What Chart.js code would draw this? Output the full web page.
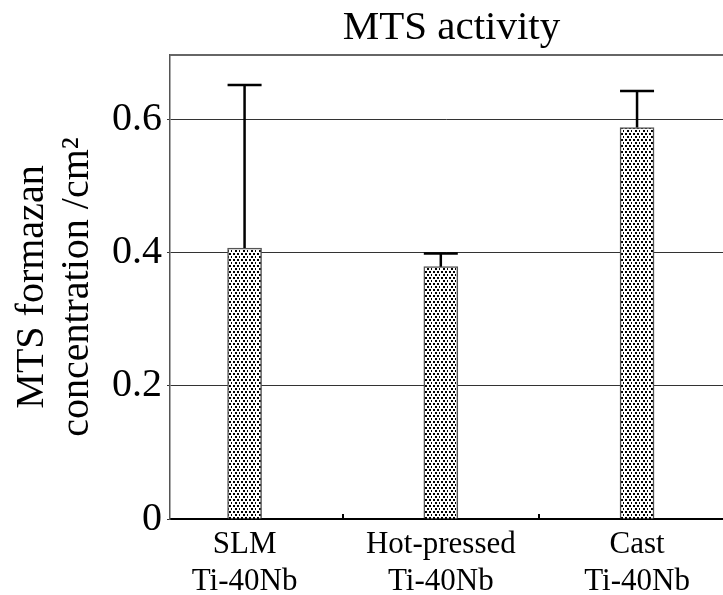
<!DOCTYPE html>
<html lang="en">

<head>
  <meta charset="UTF-8">
  <title>MTS activity</title>
  <style>
    html, body { margin: 0; padding: 0; background: #fff; overflow: hidden; }
  </style>
</head>

<body>
  <canvas id="chart-canvas" width="723" height="595"></canvas>

  <script src="https://cdn.jsdelivr.net/npm/chart.js@4.4.8/dist/chart.umd.min.js"></script>
  <script>
    // chart data
    const categories = [['SLM', 'Ti-40Nb'], ['Hot-pressed', 'Ti-40Nb'], ['Cast', 'Ti-40Nb']];
    const categoryPositions = [1, 2, 3];
    const categoryBounds = [1.5, 2.5];
    const meanValues = [0.407, 0.379, 0.588];
    const errorUpper = [0.245, 0.020, 0.055];
    const yTicks = [0, 0.2, 0.4, 0.6];
    const yTickLabels = ['0', '0.2', '0.4', '0.6'];
    const chartTitle = 'MTS activity';
    const yTitle = ['MTS formazan', 'concentration /cm\u00B2'];

    const serif = '"Liberation Serif", "DejaVu Serif", serif';

    // dotted fill for the bars
    function dotPattern() {
      const tile = document.createElement('canvas');
      tile.width = 8;
      tile.height = 6;
      const t = tile.getContext('2d');
      t.fillStyle = '#fff';
      t.fillRect(0, 0, 8, 6);
      t.fillStyle = '#000';
      [[1, 1], [5, 1], [3, 4], [7, 4]].forEach(([x, y]) => t.fillRect(x, y, 2, 2));
      return t.createPattern(tile, 'repeat');
    }

    // title, top frame line, error bars and category separators
    const extras = {
      id: 'extras',
      afterDatasetsDraw(chart) {
        const ctx = chart.ctx;
        const y = chart.scales.y;
        const meta = chart.getDatasetMeta(0);
        ctx.save();
        ctx.strokeStyle = '#000';
        ctx.lineWidth = 2.5;
        meta.data.forEach((bar, i) => {
          const top = y.getPixelForValue(meanValues[i] + errorUpper[i]);
          const half = bar.width / 2;
          ctx.beginPath();
          ctx.moveTo(bar.x, bar.y);
          ctx.lineTo(bar.x, top);
          ctx.moveTo(bar.x - half, top);
          ctx.lineTo(bar.x + half, top);
          ctx.stroke();
        });
        ctx.restore();
      },
      afterDraw(chart) {
        const ctx = chart.ctx;
        const area = chart.chartArea;
        const x = chart.scales.x;
        ctx.save();
        // top frame
        ctx.strokeStyle = '#666';
        ctx.lineWidth = 2;
        ctx.beginPath();
        ctx.moveTo(area.left, area.top);
        ctx.lineTo(area.right, area.top);
        ctx.stroke();
        // small ticks between categories
        ctx.strokeStyle = '#000';
        ctx.lineWidth = 2;
        categoryBounds.forEach(b => {
          const px = Math.round(x.getPixelForValue(b));
          ctx.beginPath();
          ctx.moveTo(px, area.bottom);
          ctx.lineTo(px, area.bottom - 5);
          ctx.stroke();
        });
        // chart title
        ctx.fillStyle = '#000';
        ctx.font = '41px ' + serif;
        ctx.textAlign = 'center';
        ctx.textBaseline = 'alphabetic';
        ctx.fillText(chartTitle, (area.left + area.right) / 2 + 5, 39);
        ctx.restore();
      }
    };

    const context = document.getElementById('chart-canvas').getContext('2d');

    new Chart(context, {
      type: 'bar',
      data: {
        datasets: [
          {
            data: meanValues.map((v, i) => ({ x: categoryPositions[i], y: v })),
            backgroundColor: dotPattern(),
            borderColor: '#555',
            borderWidth: 1.5,
            borderSkipped: 'bottom',
            barThickness: 34
          }
        ]
      },
      options: {
        responsive: false,
        animation: false,
        devicePixelRatio: 1,
        layout: { padding: { top: 55, left: 0, right: 0, bottom: 0 } },
        plugins: {
          legend: { display: false },
          tooltip: { enabled: false }
        },
        scales: {
          x: {
            type: 'linear',
            min: 0.62,
            max: 3.438,
            offset: false,
            grid: { display: false, drawTicks: false },
            border: { display: true, color: '#000', width: 2 },
            afterBuildTicks: scale => {
              scale.ticks = categoryPositions.map(v => ({ value: v }));
            },
            afterFit: scale => { scale.height = 76; },
            ticks: {
              autoSkip: false,
              maxRotation: 0,
              padding: 7,
              color: '#000',
              font: { family: serif, size: 31, lineHeight: 1.2 },
              callback: (value, index) => categories[index]
            }
          },
          y: {
            min: 0,
            max: 0.697,
            afterBuildTicks: scale => {
              scale.ticks = yTicks.map(v => ({ value: v }));
            },
            afterFit: scale => { scale.width = 170; },
            grid: { color: '#333', lineWidth: 1, tickLength: 3 },
            border: { display: true, color: '#555', width: 1.5 },
            ticks: {
              autoSkip: false,
              padding: 5,
              color: '#000',
              font: { family: serif, size: 40 },
              callback: (value, index) => yTickLabels[index]
            },
            title: {
              display: true,
              text: yTitle,
              color: '#000',
              font: { family: serif, size: 40, lineHeight: 1.125 },
              padding: { top: 10, bottom: 0 }
            }
          }
        }
      },
      plugins: [extras]
    });
  </script>
</body>

</html>
